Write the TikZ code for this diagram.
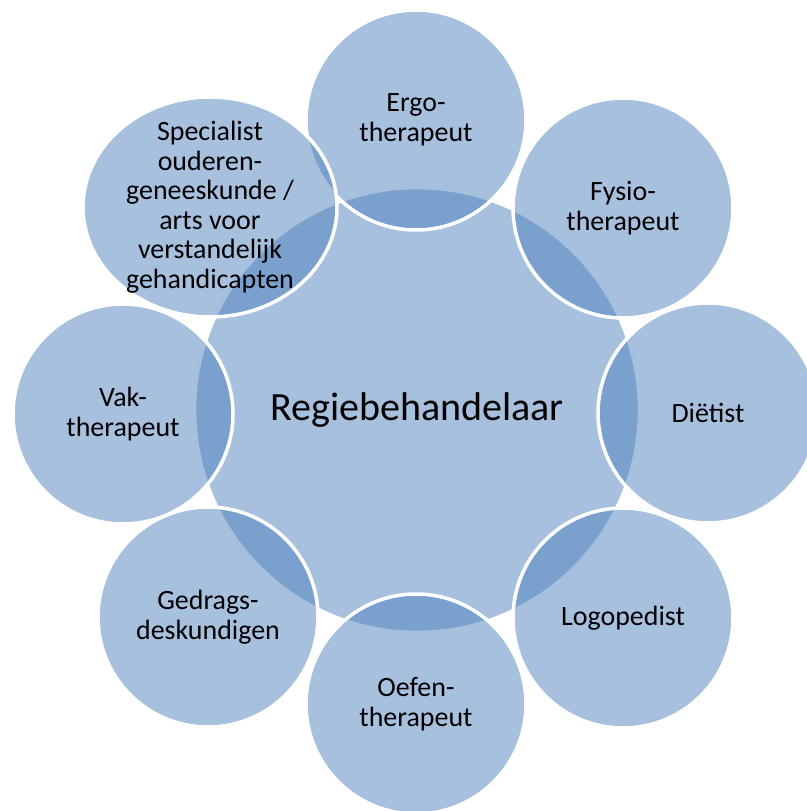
\documentclass[tikz,border=0pt]{standalone}
\usepackage{fontspec}
\setmainfont{Carlito}
\usetikzlibrary{shapes.geometric}

\definecolor{kringblauw}{HTML}{4F81BD}
\tikzset{
  bol/.style={circle, fill=kringblauw, fill opacity=0.5, text opacity=1,
    draw=white, line width=2pt, minimum size=4.4cm, inner sep=0pt,
    align=center, font=\fontsize{15.9}{16.8}\selectfont},
  labeltekst/.style={align=center, font=\fontsize{15.9}{16.8}\selectfont},
}

\begin{document}
\begin{tikzpicture}[x=0.02cm,y=-0.02cm]
    \useasboundingbox (0,0) rectangle (807,811);
    \clip (0,0) rectangle (807,811);
    \node[bol, minimum size=8.9cm, font=\fontsize{22.8}{24}\selectfont] (regie) at (417,410) {Regiebehandelaar};
    \node[bol] (ergo) at (416,120) {Ergo-\\therapeut};
    \node[bol] (fysio) at (623,208) {Fysio-\\therapeut};
    \node[bol] (dietist) at (708,413) {Diëtist};
    \node[bol] (logo) at (623,618) {Logopedist};
    \node[bol] (oefen) at (416,704) {Oefen-\\therapeut};
    \node[bol] (gedrag) at (208,617) {Gedrags-\\deskundigen};
    \node[bol] (vak) at (123,414) {Vak-\\therapeut};
    \node[bol, ellipse, minimum width=5.08cm, minimum height=4.4cm] (specialist) at (210,207) {};
    \node[labeltekst] (spectekst) at (specialist) {Specialist\\ouderen-\\geneeskunde /\\arts voor\\verstandelijk\\gehandicapten};
\end{tikzpicture}
\end{document}
